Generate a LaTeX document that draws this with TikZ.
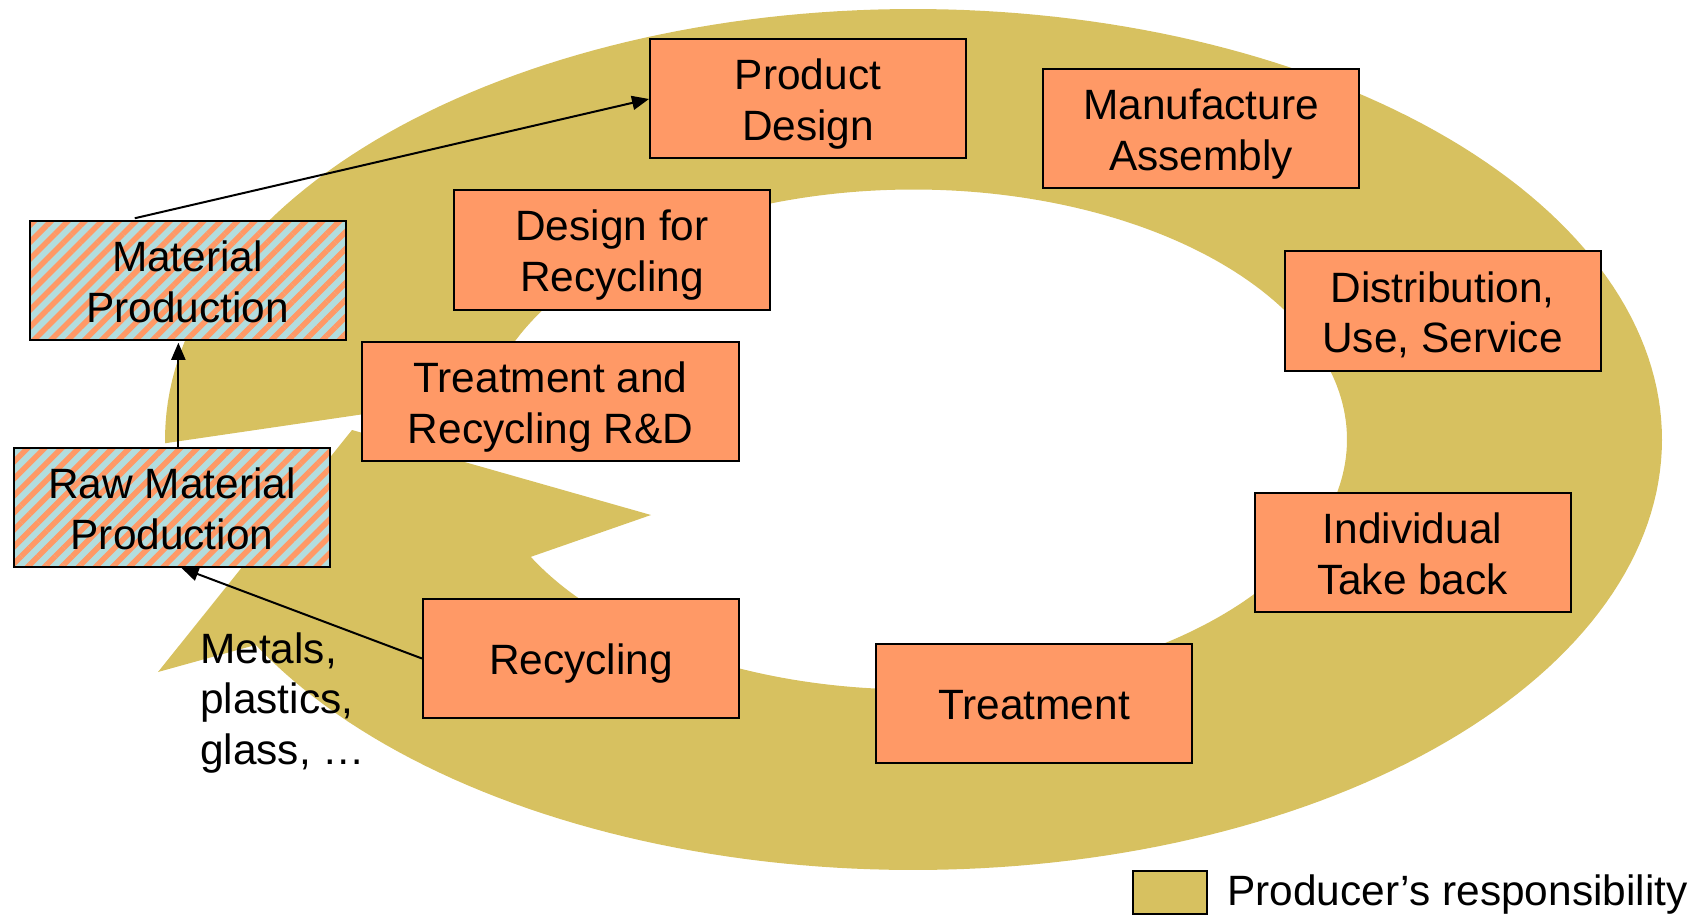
\documentclass[tikz,border=0pt]{standalone}
\usepackage{fontspec}
\setmainfont{Liberation Sans}
\usetikzlibrary{arrows.meta,calc,patterns.meta}
\definecolor{ringolive}{RGB}{215,193,96}
\definecolor{boxorange}{RGB}{255,153,102}
\definecolor{hatchblue}{RGB}{178,221,222}
\newcommand\bstrut{\rule[-9pt]{0pt}{50.7pt}}
\tikzset{
  stagebox/.style={draw=black, line width=2pt, fill=boxorange, inner sep=0pt,
    minimum width=316pt, minimum height=119pt, align=center,
    font=\fontsize{42.4}{50.7}\selectfont},
  hatchbox/.style={stagebox, fill=none, preaction={fill=hatchblue},
    pattern={Lines[angle=45,distance=12pt,line width=5.5pt]}, pattern color=boxorange},
  arr/.style={line width=2pt, -{Triangle[length=17pt,width=14pt]}},
  plain/.style={inner sep=0pt, font=\fontsize{42.4}{50.7}\selectfont}
}
\begin{document}
\begin{tikzpicture}[x=1pt,y=-1pt]
\useasboundingbox (0,0) rectangle (1704,917);
% responsibility ring with arrow head
\fill[ringolive]
  plot[domain=179.5:511.5, samples=240, variable=\t]
    ({913.5+748.5*cos(\t)},{439.5+430.5*sin(\t)})
  -- (158,672) -- (352,430) -- (651,515)
  -- plot[domain=512:190, samples=240, variable=\t]
    ({913.5+433.5*cos(\t)},{439.5+250*sin(\t)})
  -- cycle;
% boxes
\node[stagebox] (PD)  at (808,99)    {\bstrut Product\\\bstrut Design};
\node[stagebox] (MA)  at (1201,128.5){\bstrut Manufacture\\\bstrut Assembly};
\node[stagebox] (DfR) at (612,250)   {\bstrut Design for\\\bstrut Recycling};
\node[stagebox] (DUS) at (1442.5,311){\bstrut Distribution,\\\bstrut Use, Service};
\node[stagebox, minimum width=377pt] (TRD) at (550.5,401.5){\bstrut Treatment and\\\bstrut Recycling R\&D};
\node[stagebox] (ITB) at (1412.5,552.5){\bstrut Individual\\\bstrut Take back};
\node[stagebox] (REC) at (581,658.5) {\bstrut Recycling};
\node[stagebox] (TRT) at (1034,703.5){\bstrut Treatment};
\node[hatchbox] (MP)  at (187.5,280.5){\bstrut Material\\\bstrut Production};
\node[hatchbox] (RMP) at (172,507.5) {\bstrut Raw Material\\\bstrut Production};
% materials text
\node[plain, anchor=north west, align=left] (MAT) at (200,621.3)
  {\bstrut Metals,\\\bstrut plastics,\\\bstrut glass, …};
% connectors
\coordinate (mpstart) at ($(MP.north west)!0.336!(MP.north east)$);
\draw[arr] (mpstart) -- (PD.west);
\coordinate (rmptop) at ($(RMP.north west)!0.52!(RMP.north east)$);
\draw[arr] (rmptop) -- (rmptop |- MP.south);
\coordinate (rmpbot) at ($(RMP.south west)!0.53!(RMP.south east)$);
\draw[arr] (REC.west) -- (rmpbot);
% legend
\node[draw=black, line width=2pt, fill=ringolive, minimum width=74pt, minimum height=43pt, inner sep=0pt] (LEG) at (1170,892.5) {};
\node[plain, anchor=base west] (LEGT) at (1227,905) {Producer’s responsibility};
\end{tikzpicture}
\end{document}
